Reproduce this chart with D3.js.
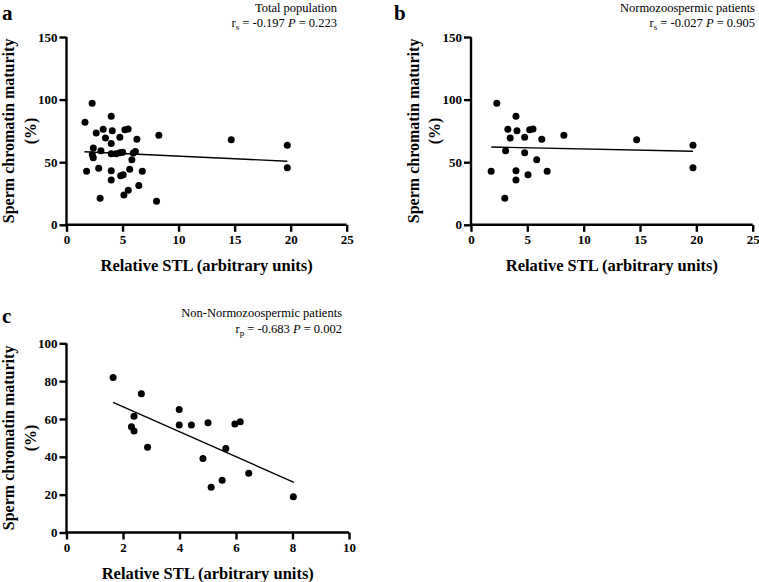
<!DOCTYPE html>
<html><head><meta charset="utf-8">
<script src="https://cdn.jsdelivr.net/npm/d3@7"></script>
<style>body{margin:0;background:#fff}svg{display:block}text{font-family:"Liberation Serif","Times New Roman",serif;fill:#000}</style>
</head><body>
<svg id="c" width="759" height="582"></svg>
<script>
// Normozoospermic patients (panel b)
const normoX = [2.29,1.79,3.0,3.07,3.27,3.48,3.99,4.08,3.99,3.99,4.76,4.76,5.06,5.21,5.5,5.83,6.28,6.76,8.24,14.7,19.7,19.7];
const normoY = [97.1,42.7,21.3,59.2,76.3,69.3,86.7,75.2,43.2,35.7,57.6,69.9,40.0,76.0,76.5,52.0,68.3,42.7,71.5,68.0,63.5,45.6];
// Non-normozoospermic patients (panel c)
const nonNormoX = [1.65,2.65,2.39,2.30,2.39,2.87,3.99,3.99,4.42,5.01,4.83,5.12,5.51,5.64,5.96,6.15,6.45,8.03];
const nonNormoY = [81.9,73.3,61.4,55.9,53.6,45.1,65.0,56.8,56.8,58.0,39.1,23.9,27.6,44.4,57.3,58.6,31.3,18.9];
// Total population (panel a) = both groups
const totalX = normoX.concat(nonNormoX);
const totalY = normoY.concat(nonNormoY);
// Regression line endpoints
const fitA = [[1.6,58.3],[19.7,50.8]];
const fitB = [[1.8,62.1],[19.7,58.7]];
const fitC = [[1.65,68.8],[8.05,26.5]];
// Ticks
const xTicksAB = [0,5,10,15,20,25];
const yTicksAB = [0,50,100,150];
const xTicksC = [0,2,4,6,8,10];
const yTicksC = [0,20,40,60,80,100];
// Texts
const yLabel1 = "Sperm chromatin maturity";
const yLabel2 = "(%)";
const xLabel = "Relative STL (arbitrary units)";

const svg = d3.select("#c");

function panel(o){
  const g = svg.append("g");
  const x = d3.scaleLinear().domain([0,o.xmax]).range([o.l,o.r]);
  const y = d3.scaleLinear().domain([0,o.ymax]).range([o.b,o.t]);
  const xa = g.append("g").attr("transform",`translate(0,${o.b})`)
    .call(d3.axisBottom(x).tickValues(o.xt).tickSize(7).tickSizeOuter(0).tickPadding(3));
  const ya = g.append("g").attr("transform",`translate(${o.l},0)`)
    .call(d3.axisLeft(y).tickValues(o.yt).tickSize(7).tickSizeOuter(0).tickPadding(2));
  [xa,ya].forEach(a=>{
    a.attr("font-family",null);
    a.select(".domain").attr("stroke","#000").attr("stroke-width",2.4);
    a.selectAll(".tick line").attr("stroke","#000").attr("stroke-width",2.4);
    a.selectAll("text").style("font-family",'"Liberation Serif","Times New Roman",serif').style("font-weight","bold").style("font-size","13px").attr("fill","#000");
  });
  xa.select(".domain").attr("d",`M${o.l-1.2},0H${o.r}`);
  ya.select(".domain").attr("d",`M0,${o.b+1.2}V${o.t}`);
  // regression line
  g.append("line").attr("x1",x(o.fit[0][0])).attr("y1",y(o.fit[0][1]))
    .attr("x2",x(o.fit[1][0])).attr("y2",y(o.fit[1][1]))
    .attr("stroke","#000").attr("stroke-width",1.4);
  // points
  g.selectAll("circle.p").data(o.xs.map((v,i)=>[v,o.ys[i]])).join("circle")
    .attr("cx",d=>x(d[0])).attr("cy",d=>y(d[1])).attr("r",3.5).attr("fill","#000");
  // axis labels
  const cy = (o.t+o.b)/2;
  g.append("text").attr("transform",`translate(${o.l-52.5},${cy}) rotate(-90)`)
    .attr("text-anchor","middle").style("font-weight","bold").style("font-size","16px").text(yLabel1);
  g.append("text").attr("transform",`translate(${o.l-31},${cy}) rotate(-90)`)
    .attr("text-anchor","middle").style("font-weight","bold").style("font-size","16px").text(yLabel2);
  g.append("text").attr("x",(o.l+o.r)/2).attr("y",o.b+46)
    .attr("text-anchor","middle").style("font-weight","bold").style("font-size","16.5px").text(xLabel);
  // panel letter
  g.append("text").attr("x",o.lx).attr("y",o.ly).style("font-weight","bold").style("font-size","21px").text(o.letter);
  // annotation
  g.append("text").attr("x",o.ax).attr("y",o.ay).attr("text-anchor","end").style("font-size","12.5px").text(o.title);
  const t2 = g.append("text").attr("x",o.ax).attr("y",o.ay+15.5).attr("text-anchor","end").style("font-size","12.5px");
  t2.append("tspan").text("r");
  t2.append("tspan").attr("dy",3).style("font-size","9px").text(o.sub);
  t2.append("tspan").attr("dy",-3).text(" = " + o.r_ + " ");
  t2.append("tspan").style("font-style","italic").text("P");
  t2.append("tspan").text(" = " + o.p);
}

panel({l:66.5,r:346.7,t:37,b:224.8,xmax:25,ymax:150,xt:xTicksAB,yt:yTicksAB,xs:totalX,ys:totalY,fit:fitA,
  letter:"a",lx:2,ly:19.5,ax:337,ay:11.5,title:"Total population",sub:"s",r_:"-0.197",p:"0.223"});
panel({l:471,r:752.7,t:37,b:224.8,xmax:25,ymax:150,xt:xTicksAB,yt:yTicksAB,xs:normoX,ys:normoY,fit:fitB,
  letter:"b",lx:394,ly:19.5,ax:755,ay:11.5,title:"Normozoospermic patients",sub:"s",r_:"-0.027",p:"0.905"});
panel({l:66.5,r:349,t:343.3,b:532.5,xmax:10,ymax:100,xt:xTicksC,yt:yTicksC,xs:nonNormoX,ys:nonNormoY,fit:fitC,
  letter:"c",lx:2,ly:323,ax:342,ay:317,title:"Non-Normozoospermic patients",sub:"p",r_:"-0.683",p:"0.002"});
</script>
</body></html>
